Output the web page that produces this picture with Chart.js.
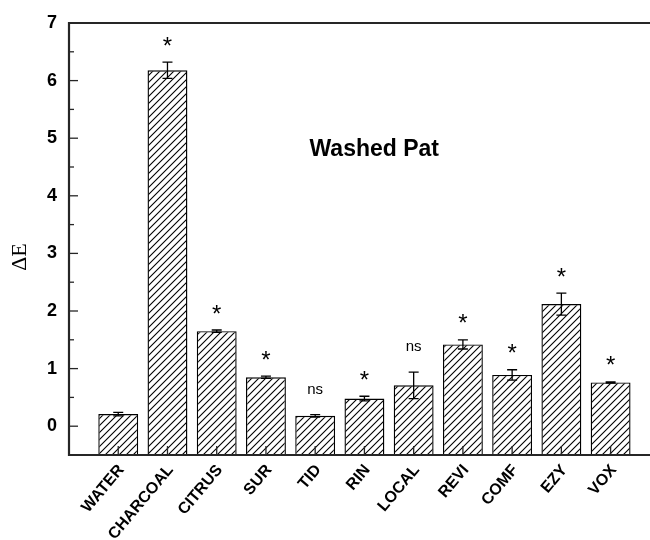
<!DOCTYPE html>
<html>
<head>
<meta charset="utf-8">
<script src="https://cdn.jsdelivr.net/npm/chart.js@4.4.1/dist/chart.umd.min.js"></script>
<style>
  html, body { margin: 0; padding: 0; background: #fff; }
  canvas { display: block; }
</style>
</head>
<body>
<canvas id="chart" width="650" height="540"></canvas>
<script>
// Colour change (ΔE) of washed pats for each cleaning product
const categories   = ['WATER', 'CHARCOAL', 'CITRUS', 'SUR', 'TID', 'RIN', 'LOCAL', 'REVI', 'COMF', 'EZY', 'VOX'];
const deltaE       = [0.21, 6.18, 1.65, 0.85, 0.18, 0.48, 0.71, 1.42, 0.89, 2.12, 0.76];
const deltaEError  = [0.03, 0.14, 0.02, 0.02, 0.02, 0.04, 0.23, 0.08, 0.09, 0.19, 0.01];
const significance = ['', '*', '*', '*', 'ns', '*', 'ns', '*', '*', '*', '*'];
const yTickValues  = [0, 1, 2, 3, 4, 5, 6, 7];
const yMin = -0.5, yMax = 7;
const xMin = -1, xMax = 10.8;
const chartTitle = 'Washed Pat';
const yAxisTitle = 'ΔE';

const SANS = '"Liberation Sans", Arial, sans-serif';
const SERIF = '"Liberation Serif", "Times New Roman", serif';
const AXIS_COLOR = '#262626';

// diagonal "/" hatch fill for the bars
function makeHatch() {
  const s = 7;
  const c = document.createElement('canvas');
  c.width = s; c.height = s;
  const g = c.getContext('2d');
  g.fillStyle = '#fff';
  g.fillRect(0, 0, s, s);
  g.strokeStyle = '#000';
  g.lineWidth = 1.1;
  g.beginPath();
  g.moveTo(-1, s + 1); g.lineTo(s + 1, -1);
  g.moveTo(-1, 1);     g.lineTo(1, -1);
  g.moveTo(s - 1, s + 1); g.lineTo(s + 1, s - 1);
  g.stroke();
  return g.createPattern(c, 'repeat');
}

const ctx = document.getElementById('chart').getContext('2d');

const decorations = {
  id: 'decorations',
  afterDatasetsDraw(chart) {
    const { ctx, chartArea: a, scales: { x, y } } = chart;
    const meta = chart.getDatasetMeta(0);
    ctx.save();

    // error bars
    ctx.strokeStyle = '#000';
    ctx.lineWidth = 1.3;
    meta.data.forEach((bar, i) => {
      const e = deltaEError[i];
      const top = y.getPixelForValue(deltaE[i] + e);
      const bot = y.getPixelForValue(deltaE[i] - e);
      const cx = bar.x, cap = 5;
      ctx.beginPath();
      ctx.moveTo(cx, top); ctx.lineTo(cx, bot);
      ctx.moveTo(cx - cap, top); ctx.lineTo(cx + cap, top);
      ctx.moveTo(cx - cap, bot); ctx.lineTo(cx + cap, bot);
      ctx.stroke();
    });

    // significance markers
    meta.data.forEach((bar, i) => {
      const mark = significance[i];
      if (!mark) return;
      const top = y.getPixelForValue(deltaE[i] + deltaEError[i]);
      ctx.fillStyle = '#000';
      ctx.textAlign = 'center';
      if (mark === 'ns') {
        ctx.font = '15px ' + SANS;
        ctx.textBaseline = 'middle';
        ctx.fillText(mark, bar.x, top - 25);
      } else {
        ctx.font = '24px ' + SANS;
        ctx.textBaseline = 'alphabetic';
        ctx.fillText(mark, bar.x, top - 22 + 13.5);
      }
    });

    // inward tick marks on the x axis
    ctx.strokeStyle = AXIS_COLOR;
    ctx.lineWidth = 1.3;
    x.ticks.forEach(t => {
      const px = x.getPixelForValue(t.value);
      ctx.beginPath();
      ctx.moveTo(px, a.bottom); ctx.lineTo(px, a.bottom - 9);
      ctx.stroke();
    });
    // inward major / minor ticks on the y axis
    y.ticks.forEach(t => {
      if (t.value <= yMin) return;
      const py = y.getPixelForValue(t.value);
      const len = Number.isInteger(t.value) ? 9 : 5;
      ctx.beginPath();
      ctx.moveTo(a.left, py); ctx.lineTo(a.left + len, py);
      ctx.stroke();
    });

    // axis frame: left, bottom and top lines
    ctx.lineWidth = 2.2;
    ctx.beginPath();
    ctx.moveTo(a.right + 2, a.top); ctx.lineTo(a.left, a.top);
    ctx.lineTo(a.left, a.bottom); ctx.lineTo(a.right + 2, a.bottom);
    ctx.stroke();

    // panel title
    ctx.fillStyle = '#000';
    ctx.font = 'bold 23px ' + SANS;
    ctx.textAlign = 'center';
    ctx.textBaseline = 'middle';
    ctx.fillText(chartTitle, x.getPixelForValue(5.2), y.getPixelForValue(4.8));

    // y axis title
    ctx.save();
    ctx.translate(20, (a.top + a.bottom) / 2 + 18);
    ctx.rotate(-Math.PI / 2);
    ctx.font = '22px ' + SERIF;
    ctx.fillText(yAxisTitle, 0, 0);
    ctx.restore();

    ctx.restore();
  }
};

new Chart(ctx, {
  type: 'bar',
  data: {
    datasets: [{
      data: categories.map((c, i) => ({ x: i, y: deltaE[i] })),
      base: yMin,
      backgroundColor: makeHatch(),
      borderColor: '#000',
      borderWidth: 1.4,
      barPercentage: 0.9,
      categoryPercentage: 0.9
    }]
  },
  options: {
    responsive: false,
    animation: false,
    layout: { padding: { top: 23, right: 0, left: 0, bottom: 0 } },
    plugins: { legend: { display: false }, tooltip: { enabled: false } },
    scales: {
      x: {
        type: 'linear',
        offset: false,
        min: xMin,
        max: xMax,
        afterBuildTicks: s => { s.ticks = categories.map((c, i) => ({ value: i })); },
        afterFit: s => { s.height = 85; },
        grid: { display: false, drawTicks: false },
        border: { display: false },
        ticks: {
          autoSkip: false,
          minRotation: 50,
          maxRotation: 50,
          padding: 6,
          labelOffset: 3,
          color: '#000',
          font: { family: SANS, size: 16, weight: 'bold' },
          callback: v => categories[v]
        }
      },
      y: {
        min: yMin,
        max: yMax,
        afterFit: s => { s.width = 69; },
        grid: { display: false, drawTicks: false },
        border: { display: false },
        ticks: {
          stepSize: 0.5,
          padding: 12,
          color: '#000',
          font: { family: SANS, size: 18, weight: 'bold' },
          callback: v => (yTickValues.includes(v) ? String(v) : '')
        }
      }
    }
  },
  plugins: [decorations]
});
</script>
</body>
</html>
